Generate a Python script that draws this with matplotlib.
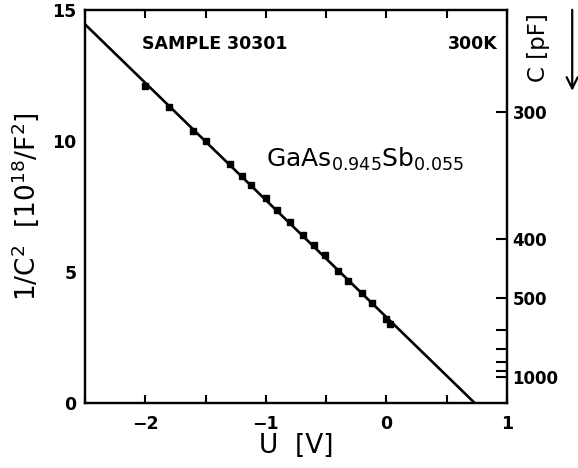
import matplotlib
matplotlib.use("Agg")
import matplotlib.pyplot as plt
import numpy as np

# measured points, U in V and 1/C^2 in 10^18/F^2
voltage = [-2.0, -1.8, -1.6, -1.5, -1.3, -1.2, -1.12, -1.0, -0.91, -0.8,
           -0.69, -0.6, -0.51, -0.4, -0.32, -0.2, -0.12, -0.005, 0.03]
inv_c2 = [12.09, 11.30, 10.37, 9.99, 9.11, 8.66, 8.33, 7.83, 7.37, 6.89,
          6.42, 6.01, 5.63, 5.05, 4.67, 4.18, 3.80, 3.20, 3.03]

cap_major = [300, 400, 500, 1000]   # pF
cap_minor = [600, 700, 800, 900]

plt.rcParams['font.family'] = ['DejaVu Sans']

fig = plt.figure(figsize=(5.78, 4.68), dpi=100)
ax = fig.add_axes([0.147, 0.139, 0.730, 0.840])

# straight-line fit through the points
slope, icept = np.polyfit(voltage, inv_c2, 1)
u_line = np.array([-2.5, -icept / slope])
ax.plot(u_line, slope * u_line + icept, color='black', lw=1.9)
ax.plot(voltage, inv_c2, 's', color='black', ms=4)

ax.set_xlim(-2.5, 1)
ax.set_ylim(0, 15)
ax.set_xticks([-2, -1, 0, 1])
ax.set_xticks(np.arange(-2.5, 1.01, 0.5), minor=True)
ax.set_xticklabels(['\u22122', '\u22121', '0', '1'])
ax.set_yticks([0, 5, 10, 15])
ax.tick_params(axis='x', which='both', direction='in', top=True, length=6,
               width=1.5, labelsize=12.5, pad=9)
ax.tick_params(axis='y', which='both', length=0, labelsize=12.5, pad=6)
for lab in ax.get_xticklabels() + ax.get_yticklabels():
    lab.set_fontweight('bold')
for s in ax.spines.values():
    s.set_linewidth(1.6)

ax.set_xlabel('U  [V]', fontsize=19, labelpad=0)
ax.set_ylabel(r'1/C$^2$  [10$^{18}$/F$^2$]', fontsize=19, labelpad=8)

# right axis: capacitance in pF
ax2 = ax.twinx()
ax2.set_ylim(0, 15)
ax2.set_yticks([1e6 / c**2 for c in cap_major])
ax2.set_yticklabels([str(c) for c in cap_major])
ax2.set_yticks([1e6 / c**2 for c in cap_minor], minor=True)
ax2.tick_params(axis='y', which='both', direction='in', length=8, width=1.5,
                labelsize=12, pad=4)
for lab in ax2.get_yticklabels():
    lab.set_fontweight('bold')
for s in ax2.spines.values():
    s.set_linewidth(1.6)

fig.text(0.931, 0.898, 'C [pF]', rotation=90, fontsize=16.5, ha='center',
         va='center')
fig.add_artist(matplotlib.patches.FancyArrowPatch(
    (0.99, 0.985), (0.99, 0.8), transform=fig.transFigure,
    arrowstyle='->,head_length=8,head_width=4', lw=1.6, color='black'))

ax.text(-2.03, 13.7, 'SAMPLE 30301', fontsize=12.5, fontweight='bold',
        va='center', ha='left')
ax.text(0.925, 13.7, '300K', fontsize=12.5, fontweight='bold',
        va='center', ha='right')
ax.text(-1.0, 9.0, r'GaAs$_{0.945}$Sb$_{0.055}$', fontsize=18,
        ha='left', va='baseline')

fig.savefig('out.png', dpi=100)
